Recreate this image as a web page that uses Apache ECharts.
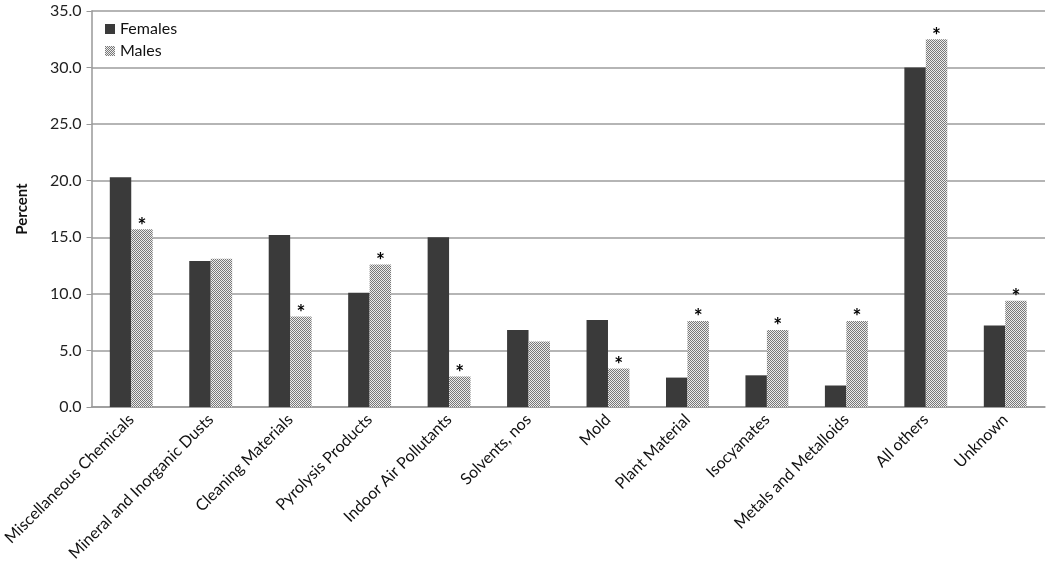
<!DOCTYPE html>
<html>
<head>
<meta charset="utf-8">
<script src="https://cdn.jsdelivr.net/npm/echarts@6/dist/echarts.min.js"></script>
<style>
  html, body { margin: 0; padding: 0; background: #fff; }
  #chart { width: 1050px; height: 572px; }
</style>
</head>
<body>
<div id="chart"></div>
<script>
var categories = ['Miscellaneous Chemicals', 'Mineral and Inorganic Dusts', 'Cleaning Materials',
  'Pyrolysis Products', 'Indoor Air Pollutants', 'Solvents, nos', 'Mold', 'Plant Material',
  'Isocyanates', 'Metals and Metalloids', 'All others', 'Unknown'];
var females = [20.3, 12.9, 15.2, 10.1, 15.0, 6.8, 7.7, 2.6, 2.8, 1.9, 30.0, 7.2];
var males = [15.7, 13.1, 8.0, 12.6, 2.7, 5.8, 3.4, 7.6, 6.8, 7.6, 32.5, 9.4];
// significance marks shown above the male bars
var maleStar = [1, 0, 1, 1, 1, 0, 1, 1, 1, 1, 1, 1];
var yTicks = [0, 5, 10, 15, 20, 25, 30, 35];

// checkered fill for the male bars
var pat = document.createElement('canvas');
pat.width = 2; pat.height = 2;
var pc = pat.getContext('2d');
pc.fillStyle = '#ececec'; pc.fillRect(0, 0, 2, 2);
pc.fillStyle = '#787878'; pc.fillRect(0, 0, 1, 1); pc.fillRect(1, 1, 1, 1);
var maleFill = { image: pat, repeat: 'repeat' };

var font = 'Lato, "Open Sans", sans-serif';

var option = {
  animation: false,
  textStyle: { fontFamily: font },
  grid: { left: 90, right: 5, top: 11, bottom: 165, containLabel: false },
  legend: {
    orient: 'vertical',
    left: 100,
    top: 16,
    icon: 'rect',
    itemWidth: 10,
    itemHeight: 10,
    itemGap: 6,
    textStyle: { fontSize: 16, color: '#111', fontFamily: font },
    data: [
      { name: 'Females', itemStyle: { color: '#3a3a3a' } },
      { name: 'Males', itemStyle: { color: maleFill } }
    ]
  },
  xAxis: {
    type: 'category',
    data: categories,
    axisLine: { lineStyle: { color: '#999', width: 1.5 } },
    axisTick: { length: 5, lineStyle: { color: '#999' } },
    axisLabel: { rotate: 45, interval: 0, fontSize: 16, color: '#111', margin: 10 }
  },
  yAxis: {
    type: 'value',
    min: yTicks[0],
    max: yTicks[yTicks.length - 1],
    interval: 5,
    name: 'Percent',
    nameLocation: 'middle',
    nameGap: 62,
    nameRotate: 90,
    nameTextStyle: { fontSize: 15, fontWeight: 'bold', color: '#111' },
    axisLine: { show: true, lineStyle: { color: '#999', width: 1.5 } },
    axisTick: { show: true, length: 5, lineStyle: { color: '#999' } },
    axisLabel: {
      fontSize: 16, color: '#222', margin: 10,
      formatter: function (v) { return v.toFixed(1); }
    },
    splitLine: { lineStyle: { color: '#b5b5b5', width: 2 } }
  },
  series: [
    {
      name: 'Females',
      type: 'bar',
      data: females,
      barGap: 0,
      barCategoryGap: '46%',
      itemStyle: { color: '#3a3a3a' }
    },
    {
      name: 'Males',
      type: 'bar',
      data: males,
      itemStyle: { color: maleFill },
      label: {
        show: true,
        position: 'top',
        distance: -7,
        fontSize: 21,
        fontWeight: 'bold',
        color: '#000',
        formatter: function (p) { return maleStar[p.dataIndex] ? '*' : ''; }
      }
    }
  ]
};

var myChart = echarts.init(document.getElementById('chart'));
myChart.setOption(option);
</script>
</body>
</html>
